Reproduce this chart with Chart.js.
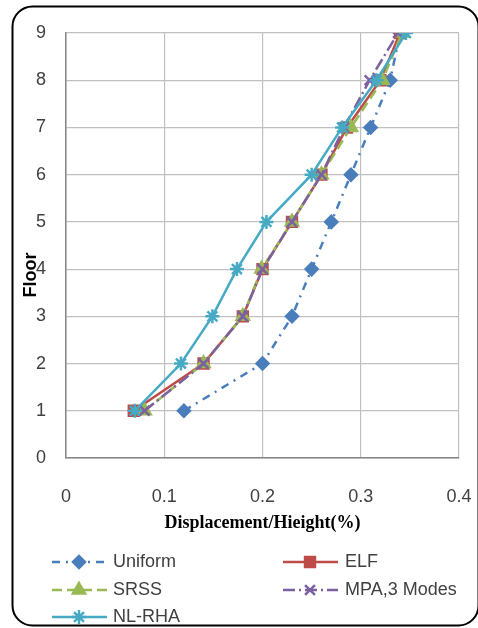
<!DOCTYPE html>
<html>
<head>
<meta charset="utf-8">
<script src="https://cdn.jsdelivr.net/npm/chart.js@4/dist/chart.umd.min.js"></script>
<style>
  html, body { margin: 0; padding: 0; background: #fff; }
  canvas { display: block; }
</style>
</head>
<body>
<canvas id="driftChart" width="478" height="628"></canvas>
<script>
// storey drift profiles, one x value per floor
const floors = [1, 2, 3, 4, 5, 6, 7, 8, 9];
const uniform = [0.12, 0.20, 0.23, 0.25, 0.27, 0.29, 0.31, 0.33, 0.34];
const elf = [0.069, 0.14, 0.18, 0.20, 0.23, 0.26, 0.286, 0.32, 0.34];
const srss = [0.08, 0.14, 0.18, 0.199, 0.23, 0.26, 0.29, 0.322, 0.342];
const mpa = [0.08, 0.14, 0.18, 0.20, 0.23, 0.26, 0.283, 0.309, 0.338];
const nlrha = [0.07, 0.117, 0.149, 0.174, 0.204, 0.25, 0.281, 0.316, 0.346];

const seriesNames = ['Uniform', 'ELF', 'SRSS', 'MPA,3 Modes', 'NL-RHA'];
const xTickLabels = ['0', '0.1', '0.2', '0.3', '0.4'];
const yTickLabels = ['0', '1', '2', '3', '4', '5', '6', '7', '8', '9'];

const toPoints = (values) => values.map((v, i) => ({ x: v, y: floors[i] }));

const styles = [
    { color: '#4A7EBB', dash: [8, 6, 2, 6], marker: 'rectRot', radius: 6 },
    { color: '#BE4B48', dash: [], marker: 'rect', radius: 7 },
    { color: '#98B954', dash: [10, 5], marker: 'triangle', radius: 7 },
    { color: '#7D60A0', dash: [12, 4, 2, 4], marker: 'crossRot', radius: 7 },
    { color: '#46AAC5', dash: [], marker: 'star', radius: 7 },
];

const datasets = [uniform, elf, srss, mpa, nlrha].map((values, i) => ({
    label: seriesNames[i],
    data: toPoints(values),
    showLine: true,
    borderColor: styles[i].color,
    backgroundColor: styles[i].color,
    borderWidth: 2.5,
    borderDash: styles[i].dash,
    pointStyle: styles[i].marker,
    pointRadius: styles[i].radius,
    pointBorderWidth: 2.5,
    pointBorderColor: styles[i].color,
    pointBackgroundColor: styles[i].color,
    order: 4 - i,
}));

// rounded frame around the whole figure
const framePlugin = {
    id: 'frame',
    afterDraw(chart) {
        const ctx = chart.ctx;
        ctx.save();
        ctx.strokeStyle = '#000';
        ctx.lineWidth = 2;
        ctx.beginPath();
        ctx.roundRect(12.5, 6.5, 466, 619, 20);
        ctx.stroke();
        ctx.restore();
    },
};

// rotated y title, drawn a little below the axis centre
const floorTitlePlugin = {
    id: 'floorTitle',
    afterDraw(chart) {
        const ctx = chart.ctx;
        ctx.save();
        ctx.translate(31, 275);
        ctx.rotate(-Math.PI / 2);
        ctx.font = 'bold 18px "Liberation Sans", Arial, sans-serif';
        ctx.fillStyle = '#000';
        ctx.textAlign = 'center';
        ctx.textBaseline = 'middle';
        ctx.fillText('Floor', 0, 0);
        ctx.restore();
    },
};

// two-column legend under the axis title
const gridLegendPlugin = {
    id: 'gridLegend',
    afterDraw(chart) {
        const ctx = chart.ctx;
        const cols = [
            { x0: 52, x1: 107, mx: 79, tx: 113 },
            { x0: 283, x1: 338, mx: 310, tx: 345 },
        ];
        const rows = [562, 590, 617];
        chart.data.datasets.forEach((ds, i) => {
            const col = cols[i % 2];
            const y = rows[Math.floor(i / 2)];
            ctx.save();
            ctx.strokeStyle = ds.borderColor;
            ctx.lineWidth = 2.5;
            ctx.setLineDash(ds.borderDash);
            ctx.beginPath();
            ctx.moveTo(col.x0, y);
            ctx.lineTo(col.x1, y);
            ctx.stroke();
            ctx.setLineDash([]);
            ctx.fillStyle = ds.pointBackgroundColor;
            ctx.strokeStyle = ds.pointBorderColor;
            ctx.lineWidth = 2.5;
            Chart.helpers.drawPoint(ctx, { pointStyle: ds.pointStyle, radius: ds.pointRadius, borderWidth: 2.5, rotation: 0 }, col.mx, y);
            ctx.font = '18px "Liberation Sans", Arial, sans-serif';
            ctx.fillStyle = '#404040';
            ctx.textBaseline = 'middle';
            ctx.fillText(ds.label, col.tx, y);
            ctx.restore();
        });
    },
};

new Chart(document.getElementById('driftChart'), {
    type: 'scatter',
    data: { datasets },
    plugins: [framePlugin, floorTitlePlugin, gridLegendPlugin],
    options: {
        responsive: false,
        animation: false,
        layout: { padding: { left: 0, right: 19, top: 33, bottom: 88 } },
        plugins: { legend: { display: false }, tooltip: { enabled: false } },
        scales: {
            x: {
                type: 'linear',
                min: 0,
                max: 0.4,
                afterFit: (scale) => {
                    scale.height = 82;
                    scale.paddingLeft = 0;
                    scale.paddingRight = 0;
                },
                border: { color: '#868686', width: 1.5 },
                grid: { color: '#c0c0c0', lineWidth: 1.2, drawTicks: false },
                ticks: {
                    stepSize: 0.1,
                    padding: 28,
                    color: '#404040',
                    font: { family: '"Liberation Sans", Arial, sans-serif', size: 18 },
                    callback: (value) => xTickLabels[Math.round(value * 10)],
                },
                title: {
                    display: true,
                    text: 'Displacement/Hieight(%)',
                    color: '#000',
                    font: { family: '"Liberation Serif", "Times New Roman", serif', size: 18, weight: 'bold' },
                    padding: { top: 0, bottom: 6 },
                },
            },
            y: {
                type: 'linear',
                min: 0,
                max: 9,
                afterFit: (scale) => {
                    scale.width = 66;
                    scale.paddingTop = 0;
                    scale.paddingBottom = 0;
                },
                border: { color: '#868686', width: 1.5 },
                grid: { color: '#c0c0c0', lineWidth: 1.2, drawTicks: false },
                ticks: {
                    stepSize: 1,
                    padding: 20,
                    color: '#404040',
                    font: { family: '"Liberation Sans", Arial, sans-serif', size: 18 },
                    callback: (value) => yTickLabels[value],
                },
            },
        },
    },
});
</script>
</body>
</html>
